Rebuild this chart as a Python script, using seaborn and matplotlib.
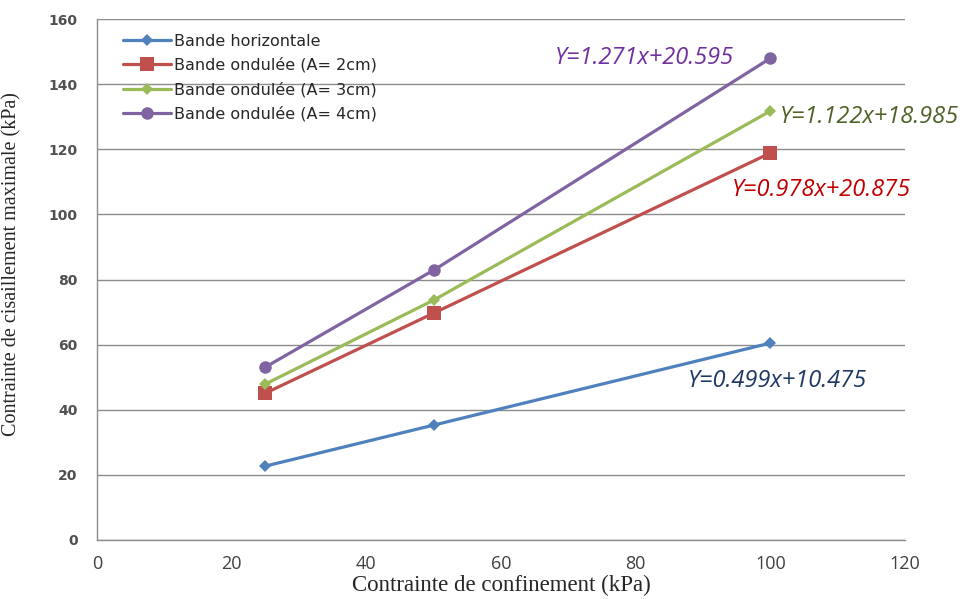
import matplotlib
matplotlib.use("Agg")
import matplotlib.pyplot as plt
import seaborn as sns
import pandas as pd

# donnees
confinement = [25, 50, 100]
horizontale = [22.7, 35.3, 60.5]
ondulee_2cm = [45.1, 69.7, 118.9]
ondulee_3cm = [47.9, 73.7, 131.8]
ondulee_4cm = [53.1, 82.9, 148.0]

series = ["Bande horizontale", "Bande ondulée (A= 2cm)",
          "Bande ondulée (A= 3cm)", "Bande ondulée (A= 4cm)"]
equations = ["Y=0.499x+10.475", "Y=0.978x+20.875",
             "Y=1.122x+18.985", "Y=1.271x+20.595"]

sns.set_theme(style="white")
plt.rcParams['font.family'] = ['DejaVu Sans']

rows = []
for name, vals in zip(series, [horizontale, ondulee_2cm, ondulee_3cm, ondulee_4cm]):
    for x, y in zip(confinement, vals):
        rows.append({"x": x, "y": y, "serie": name})
df = pd.DataFrame(rows)

palette = dict(zip(series, ["#4F81BD", "#C0504D", "#9BBB59", "#8064A2"]))
markers = dict(zip(series, ["D", "s", "D", "o"]))
msizes = {series[0]: 6, series[1]: 10, series[2]: 6, series[3]: 9}

fig = plt.figure(figsize=(9.65, 5.99), dpi=100)
ax = fig.add_axes([0.1005, 0.0985, 0.8375, 0.8695])

for name in series:
    sub = df[df["serie"] == name]
    sns.lineplot(data=sub, x="x", y="y", ax=ax, color=palette[name],
                 marker=markers[name], markersize=msizes[name], linewidth=2.3,
                 markeredgewidth=0, label=name)

ax.set_xlim(0, 120)
ax.set_ylim(0, 160)
ax.set_xticks(range(0, 121, 20))
ax.set_yticks(range(0, 161, 20))
ax.yaxis.grid(True, color="#8c8c8c", linewidth=1)
ax.xaxis.grid(False)
ax.set_axisbelow(True)
for s in ["top", "right"]:
    ax.spines[s].set_visible(False)
for s in ["left", "bottom"]:
    ax.spines[s].set_color("#8c8c8c")
    ax.spines[s].set_linewidth(1)

ax.tick_params(axis="y", length=0, pad=14, labelsize=10, colors="#404040")
ax.tick_params(axis="x", length=0, pad=11, labelsize=13, colors="#404040")
for lab in ax.get_xticklabels():
    lab.set_family("Open Sans")
for lab in ax.get_yticklabels():
    lab.set_family("DejaVu Sans")
    lab.set_fontweight("bold")
    lab.set_color("#505050")

ax.set_xlabel("Contrainte de confinement (kPa)", family="Liberation Serif",
              fontsize=16.5, labelpad=1)
ax.set_ylabel("Contrainte de cisaillement maximale (kPa)", family="Liberation Serif",
              fontsize=14.5)
ax.yaxis.set_label_coords(-0.093, 0.53)

leg = ax.legend(loc="upper left", bbox_to_anchor=(0.015, 1.0), frameon=False,
                fontsize=11.5, handlelength=3.0, labelspacing=0.56, handletextpad=0.15)

# equations des droites
eq_pos = [(87.8, 48.8), (94.3, 107.5), (101.4, 129.9), (68.0, 148.0)]
eq_col = ["#1F3864", "#C00000", "#4F6228", "#7030A0"]
for txt, (x, y), c in zip(equations, eq_pos, eq_col):
    ax.text(x, y, txt, color=c, fontsize=17, style="italic", family="Open Sans",
            va="center", ha="left", clip_on=False)

fig.savefig("out.png", dpi=100)
